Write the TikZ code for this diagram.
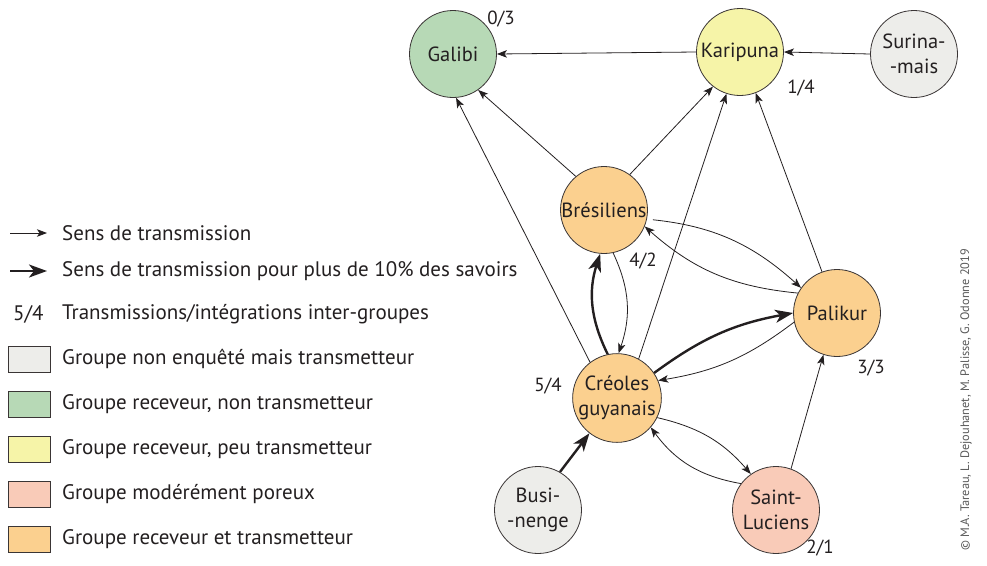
\documentclass[tikz,border=0pt]{standalone}
\usepackage{fontspec}
\setmainfont{PT Sans}
\usetikzlibrary{arrows.meta}
\definecolor{edgec}{HTML}{3A3535}
\definecolor{textc}{HTML}{231F20}
\definecolor{cgray}{HTML}{EDEDEA}
\definecolor{cgreen}{HTML}{B7D9B6}
\definecolor{cyellow}{HTML}{F6F4A8}
\definecolor{cpink}{HTML}{F9CBB8}
\definecolor{corange}{HTML}{FBD08F}
\begin{document}
\begin{tikzpicture}[x=1pt,y=-1pt,
  grp/.style={circle,draw=edgec,line width=0.8pt,minimum size=87pt,inner sep=0pt,
    align=center,text=textc,font=\fontsize{20.5}{24.5}\selectfont},
  tr/.style={-{Stealth[length=10pt,width=7.5pt,inset=2.5pt]},line width=0.8pt,draw=textc},
  trbig/.style={-{Stealth[length=18pt,width=13pt,inset=5pt]},line width=2.4pt,draw=textc},
  num/.style={text=textc,font=\fontsize{19}{22}\selectfont,inner sep=0pt},
  leg/.style={anchor=west,text=textc,font=\fontsize{21}{24}\selectfont,inner sep=0pt},
  swatch/.style={draw=edgec,line width=0.8pt,minimum width=42pt,minimum height=26pt,inner sep=0pt}]
\useasboundingbox (0,0) rectangle (987,565);
% groups
\node[grp,fill=cgreen] (gal) at (453,54) {Galibi};
\node[grp,fill=cyellow] (kar) at (740,52) {Karipuna};
\node[grp,fill=cgray] (sur) at (914,54) {Surina-\\-mais};
\node[grp,fill=corange] (bre) at (604,210) {Brésiliens};
\node[grp,fill=corange] (pal) at (837,313) {Palikur};
\node[grp,fill=corange] (cre) at (617,398) {Créoles\\guyanais};
\node[grp,fill=cgray] (bus) at (538,510) {Busi-\\-nenge};
\node[grp,fill=cpink] (stl) at (776,510) {Saint-\\Luciens};
% numbers
\node[num] (n1) at (501,19) {0/3};
\node[num] (n2) at (801,88) {1/4};
\node[num] (n3) at (643,261) {4/2};
\node[num] (n4) at (871,368) {3/3};
\node[num] (n5) at (548,386) {5/4};
\node[num] (n6) at (820,548) {2/1};
% straight connectors
\draw[tr] (kar.west) -- (gal.east);
\draw[tr] (sur.west) -- (kar.east);
\draw[tr] (bre.130) -- (gal.-55);
\draw[tr] (cre.127) -- (gal.-86);
\draw[tr] (bre.54) -- (kar.-128);
\draw[tr] (cre.61) -- (kar.-108);
\draw[tr] (pal.110) -- (kar.-69);
\draw[tr] (stl.70) -- (pal.-108);
\draw[trbig] (bus.60) -- (cre.-128);
% curved pairs
\draw[tr,shorten <=6pt] (bre.-12) to[bend left=18] (pal.145);
\draw[tr] (pal.153) to[bend left=18] (bre.-22);
\draw[trbig] (cre.102) to[bend left=22] (bre.-95);
\draw[tr] (bre.-78) to[bend left=22] (cre.88);
\draw[trbig] (cre.34) to[bend left=13] (pal.180);
\draw[tr] (pal.192) to[bend left=14] (cre.23);
\draw[tr] (cre.-26) to[bend left=18] (stl.125);
\draw[tr] (stl.143) to[bend left=22] (cre.-41);
% legend
\coordinate (la1) at (10,233);
\coordinate (lb1) at (47,233);
\draw[tr] (la1) -- (lb1);
\node[leg] (t1) at (62,233) {Sens de transmission};
\coordinate (la2) at (10,271);
\coordinate (lb2) at (47,271);
\draw[trbig] (la2) -- (lb2);
\node[leg] (t2) at (62,271) {Sens de transmission pour plus de 10\% des savoirs};
\node[leg] (t3n) at (13,314) {5/4};
\node[leg] (t3) at (62,314) {Transmissions/intégrations inter-groupes};
\node[swatch,fill=cgray] (s1) at (29,359) {};
\node[leg] (t4) at (62,359) {Groupe non enquêté mais transmetteur};
\node[swatch,fill=cgreen] (s2) at (29,404) {};
\node[leg] (t5) at (62,404) {Groupe receveur, non transmetteur};
\node[swatch,fill=cyellow] (s3) at (29,449) {};
\node[leg] (t6) at (62,449) {Groupe receveur, peu transmetteur};
\node[swatch,fill=cpink] (s4) at (29,494) {};
\node[leg] (t7) at (62,494) {Groupe modérément poreux};
\node[swatch,fill=corange] (s5) at (29,539) {};
\node[leg] (t8) at (62,539) {Groupe receveur et transmetteur};
% copyright
\node[rotate=90,text=black!65,font=\fontsize{12.3}{14}\selectfont,inner sep=0pt] (copy) at (966,400) {© M.A. Tareau, L. Dejouhanet, M. Palisse, G. Odonne 2019};
\end{tikzpicture}
\end{document}
